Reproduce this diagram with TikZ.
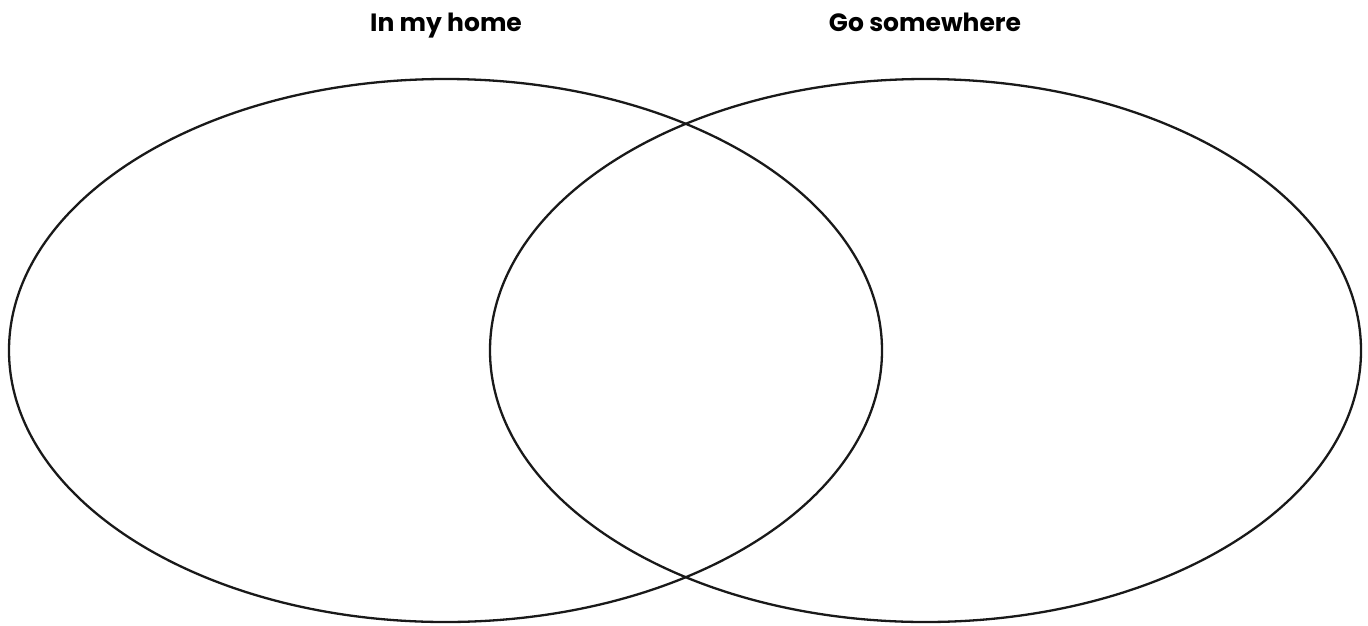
\documentclass[tikz,border=0pt]{standalone}
\usepackage{fontspec}
\newfontfamily\lblfont{Poppins}[BoldFont=Poppins Bold]
\begin{document}
\begin{tikzpicture}[x=1pt,y=-1pt,
  setring/.style={draw=black!90, line width=2.3pt},
  setlabel/.style={font=\lblfont\bfseries\fontsize{25}{30}\selectfont, anchor=base}]
\useasboundingbox (0,0) rectangle (1368,625);
\draw[setring] (445.5,350.5) ellipse [x radius=436.5, y radius=271.5];
\draw[setring] (925.5,350.5) ellipse [x radius=435.5, y radius=271.5];
\node[setlabel] (home) at (446,31) {In my home};
\node[setlabel] (some) at (925,31) {Go somewhere};
\end{tikzpicture}
\end{document}
